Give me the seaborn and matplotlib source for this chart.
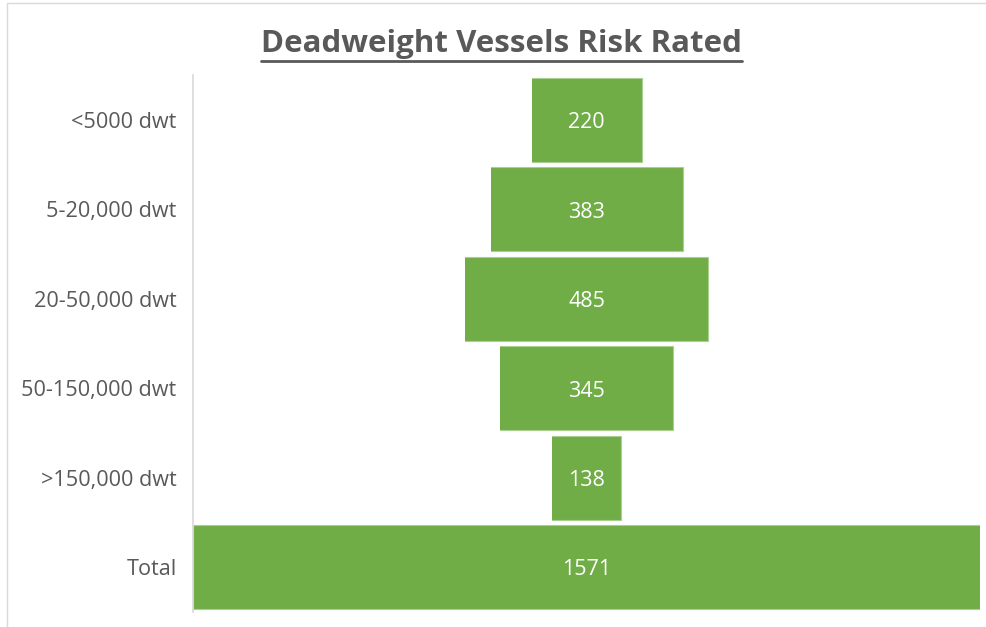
import matplotlib
matplotlib.use("Agg")
from matplotlib import pyplot as plt
from matplotlib.lines import Line2D
from matplotlib.patches import Rectangle
import pandas as pd
import seaborn as sns

# Data
categories = ["<5000 dwt", "5-20,000 dwt", "20-50,000 dwt", "50-150,000 dwt", ">150,000 dwt", "Total"]
vessels = [220, 383, 485, 345, 138, 1571]

green = "#70AD47"
grey = "#595959"

df = pd.DataFrame({"category": categories, "vessels": vessels})
widest = df["vessels"].max()
# funnel: invisible pad on the left so each bar is centred
df["pad"] = (widest - df["vessels"]) / 2
df["end"] = df["pad"] + df["vessels"]

sns.set_style("white")
plt.rcParams["font.family"] = ["Open Sans", "DejaVu Sans"]

fig = plt.figure(figsize=(9.86, 6.27), dpi=100)
ax = fig.add_axes([0.196, 0.024, 0.798, 0.856])

sns.barplot(data=df, x="end", y="category", order=categories, color=green,
            saturation=1, width=0.94, edgecolor="#A9CF92", linewidth=0.8, ax=ax)
sns.barplot(data=df, x="pad", y="category", order=categories, color="white",
            saturation=1, width=0.98, linewidth=0, ax=ax)

for i, row in df.iterrows():
    ax.text(row["pad"] + row["vessels"] / 2, i + 0.03, str(row["vessels"]),
            ha="center", va="center", color="white", fontsize=15.5)

ax.set_xlim(0, widest)
ax.set_ylim(5.5, -0.5)
ax.set_xlabel("")
ax.set_ylabel("")
ax.set_xticks([])
ax.tick_params(axis="y", length=0, pad=12, labelsize=15.6, labelcolor=grey)
for side in ["top", "right", "bottom"]:
    ax.spines[side].set_visible(False)
ax.spines["left"].set_color("#D9D9D9")
ax.spines["left"].set_linewidth(1.2)

# title with underline
title = fig.text(0.509, 0.930, "Deadweight Vessels Risk Rated", ha="center", va="center",
                 fontsize=22.5, fontweight="bold", color=grey)
fig.canvas.draw()
bb = title.get_window_extent().transformed(fig.transFigure.inverted())
fig.add_artist(Line2D([bb.x0, bb.x1], [bb.y0 - 0.003, bb.y0 - 0.003],
                      transform=fig.transFigure, color=grey, linewidth=2))

# light chart frame
fig.add_artist(Rectangle((0.007, -0.1), 1.1, 1.095, transform=fig.transFigure,
                         fill=False, edgecolor="#D9D9D9", linewidth=1))

fig.savefig("out.png", dpi=100)
